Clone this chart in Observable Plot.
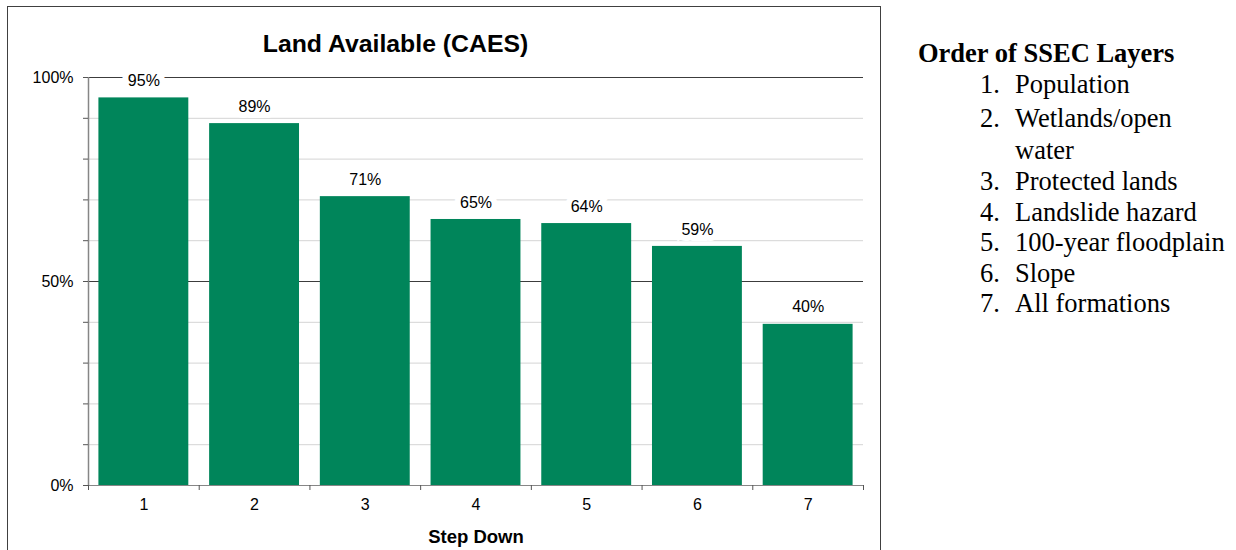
<!DOCTYPE html>
<html>
<head>
<meta charset="utf-8">
<script src="https://cdn.jsdelivr.net/npm/d3@7"></script>
<script src="https://cdn.jsdelivr.net/npm/@observablehq/plot@0.6"></script>
<style>
  html, body { margin: 0; padding: 0; background: #fff; }
  body { width: 1236px; height: 550px; position: relative; overflow: hidden; font-family: "Liberation Sans", Arial, sans-serif; }
  #frame { position: absolute; left: 7px; top: 6px; width: 872px; height: 600px; border: 1px solid #404040; border-bottom: none; }
  #title { position: absolute; left: 0; width: 775px; top: 23px; text-align: center; font-weight: bold; font-size: 24.8px; color: #000; }
  #chart { position: absolute; left: 0; top: 54px; }
  #chart svg { overflow: visible; }
  g[aria-label="x-axis label"] text { font-weight: bold; font-size: 18.5px; fill: #000; }
  #side { position: absolute; left: 918px; top: 38px; font-family: "Liberation Serif", "Times New Roman", serif; color: #000; }
  #side h3 { margin: 0; font-size: 26.5px; font-weight: bold; line-height: 30px; }
  #side ol { margin: 1px 0 0 0; padding: 0; list-style: none; }
  #side li { display: flex; font-size: 26.5px; line-height: 30.5px; }
  #side li:nth-child(2) { margin-top: 3.5px; line-height: 31.5px; }
  #side li .n { width: 97px; padding-left: 62px; box-sizing: border-box; flex: none; }
  #side li .t { width: 214px; }
</style>
</head>
<body>
<div id="frame">
  <div id="title"></div>
  <div id="chart"></div>
</div>
<div id="side"></div>
<script>
const titleText = "Land Available (CAES)";
const xLabel = "Step Down";
const steps = [1, 2, 3, 4, 5, 6, 7];
const values = [0.95, 0.887, 0.708, 0.652, 0.642, 0.586, 0.395];
const yMajorTicks = [0, 0.5, 1];
const yMinorTicks = [0, 0.1, 0.2, 0.3, 0.4, 0.5, 0.6, 0.7, 0.8, 0.9, 1];
const yLightGrid = [0.1, 0.2, 0.3, 0.4, 0.6, 0.7, 0.8, 0.9];
const yDarkGrid = [0.5, 1];
const sideTitle = "Order of SSEC Layers";
const layers = ["Population", "Wetlands/open water", "Protected lands", "Landslide hazard", "100-year floodplain", "Slope", "All formations"];

const data = steps.map((s, i) => ({step: s, value: values[i]}));
const boundaries = d3.range(steps.length + 1).map(i => steps[0] - 0.5 + i);
const half = 0.406;
const pct = d3.format(".0%");

document.getElementById("title").textContent = titleText;

const chart = Plot.plot({
  width: 872,
  height: 496,
  marginLeft: 80,
  marginRight: 17,
  marginTop: 16,
  marginBottom: 72,
  style: {fontFamily: "'Liberation Sans', Arial, sans-serif", fontSize: "16px", color: "#000", background: "transparent"},
  x: {type: "linear", domain: [boundaries[0], boundaries[boundaries.length - 1]]},
  y: {domain: [0, 1]},
  marks: [
    Plot.ruleY(yLightGrid, {stroke: "#d4d4d4", strokeWidth: 1, strokeOpacity: 1}),
    Plot.ruleY(yDarkGrid, {stroke: "#3c3c3c", strokeWidth: 1, strokeOpacity: 1}),
    Plot.rectY(data, {x1: d => d.step - half, x2: d => d.step + half, y1: 0, y2: "value", fill: "#00855A"}),
    Plot.ruleY([0], {stroke: "#868686", strokeWidth: 1.2}),
    Plot.ruleX([boundaries[0]], {y1: 0, y2: 1, stroke: "#868686", strokeWidth: 1.5}),
    Plot.axisY({ticks: yMinorTicks, tickSize: 5, text: null, label: null, stroke: "#555", strokeOpacity: 1}),
    Plot.axisY({ticks: yMajorTicks, tickSize: 5, tickPadding: 10, tickFormat: pct, label: null, fontSize: 16, strokeOpacity: 1, stroke: "#555"}),
    Plot.axisX({ticks: boundaries, tickSize: 5, text: null, label: null, stroke: "#555", strokeOpacity: 1}),
    Plot.axisX({ticks: steps, tickSize: 0, tickPadding: 13, tickFormat: d => String(d), fontSize: 16, label: xLabel, labelAnchor: "center", labelOffset: 57, labelArrow: "none"}),
    Plot.text(data, {x: "step", y: "value", text: d => pct(d.value), dy: -17, fontSize: 16, fill: "#000", stroke: "white", strokeWidth: 12, strokeLinejoin: "miter", paintOrder: "stroke"})
  ]
});
document.getElementById("chart").appendChild(chart);

const side = document.getElementById("side");
const h = document.createElement("h3");
h.textContent = sideTitle;
side.appendChild(h);
const ol = document.createElement("ol");
layers.forEach((t, i) => {
  const li = document.createElement("li");
  const n = document.createElement("span"); n.className = "n"; n.textContent = (i + 1) + ".";
  const s = document.createElement("span"); s.className = "t"; s.textContent = t;
  li.appendChild(n); li.appendChild(s);
  ol.appendChild(li);
});
side.appendChild(ol);
</script>
</body>
</html>
